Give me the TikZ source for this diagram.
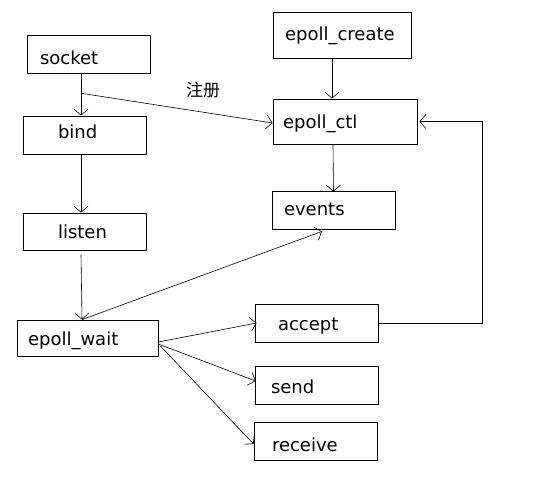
\documentclass[tikz,border=0pt]{standalone}
\usepackage{fontspec}
\setmainfont{DejaVu Sans}
\newfontfamily\cjk{Noto Sans CJK SC}
\usetikzlibrary{arrows.meta, positioning, calc}
\tikzstyle{arrow} = [line width=0.6pt, -{Straight Barb[length=6pt, width=14pt, line width=0.6pt]}]
\tikzstyle{func} = [rectangle, draw, line width=0.8pt, minimum height=38pt, inner ysep=2pt, text height=18pt, text depth=4pt, align=left, font=\fontsize{18}{22}\selectfont]

\begin{document}
\begin{tikzpicture}[x=1pt, y=1pt]
\useasboundingbox (0,0) rectangle (558,-499);

% Left column
\node[func, text width=97pt, inner xsep=13pt, text height=24pt] (socket) at (88.5,-54) {socket};
\node[func, text width=53pt, inner xsep=35pt, text height=10pt] (bind) at (84.5,-135) {bind};
\node[func, text width=53pt, inner xsep=35pt, text height=17pt, minimum height=37pt] (listen) at (84.5,-231.5) {listen};
\node[func, text width=119pt, inner xsep=11pt, minimum height=36pt] (wait) at (87.5,-338) {epoll\_wait};

% epoll column
\node[func, text width=114pt, inner xsep=12pt, text height=14pt, minimum height=46pt] (create) at (342,-35) {epoll\_create};
\node[func, text width=124pt, inner xsep=10pt, text height=17pt, minimum height=45pt] (ctl) at (345,-121.5) {epoll\_ctl};
\node[func, text width=99pt, inner xsep=12pt, text height=14pt] (events) at (333.5,-210) {events};

% Handlers
\node[func, text width=77pt, inner xsep=23pt] (accept) at (316.5,-323) {accept};
\node[func, text width=91pt, inner xsep=16pt, text height=20pt] (send) at (316.5,-385) {send};
\node[func, text width=87pt, inner xsep=18pt, text height=24pt] (receive) at (315.5,-441) {receive};

% Arrows
\draw[arrow] ([xshift=-7.5pt]socket.south) -- ([xshift=-3.5pt]bind.north);
\coordinate (reg) at ($([xshift=-7.5pt]socket.south)!0.47!([xshift=-3.5pt]bind.north)$);
\draw[arrow] (reg) -- ([yshift=-1.5pt]ctl.west);
\node[font=\cjk\fontsize{17}{20}\selectfont] (regtext) at (203,-90) {注册};
\draw[arrow] ([xshift=-3.5pt]bind.south) -- ([xshift=-3.5pt]listen.north);
\draw[arrow] ([xshift=-3.5pt,yshift=-4pt]listen.south) -- ([xshift=-5.5pt]wait.north);
\draw[arrow] ([xshift=-10pt]create.south) -- ([xshift=-13pt]ctl.north);
\draw[arrow] ([xshift=-12pt]ctl.south) -- ([yshift=-1pt]events.north);
\draw[arrow, {Straight Barb[length=6pt, width=14pt, line width=0.6pt]}-] ([xshift=-11.5pt,yshift=-2pt]events.south) -- ([xshift=-5.5pt]wait.north);
\draw[arrow] ([yshift=-4pt]wait.east) -- ([xshift=2pt]accept.west);
\draw[arrow] ([yshift=-6pt]wait.east) -- ([xshift=1pt,yshift=4pt]send.west);
\draw[arrow] ([xshift=2pt,yshift=-8pt]wait.east) -- ([yshift=-3pt]receive.west);
\draw[arrow] (accept.east) -- ++(104,0) |- ([xshift=2pt]ctl.east);

\end{tikzpicture}
\end{document}
